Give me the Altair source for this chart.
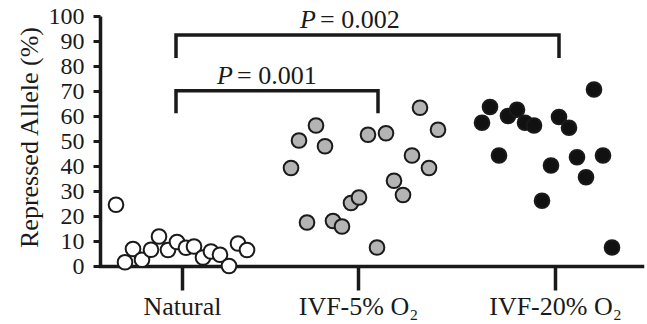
import altair as alt
import pandas as pd

# ---- data ----
groups = ["Natural", "IVF-5% O\u2082", "IVF-20% O\u2082"]
group_ticks = [182, 358, 555]          # category positions on the x axis

natural_x = [116, 125, 133, 142, 151, 159, 168, 177, 186, 194, 203, 211, 220, 229, 238, 247]
natural_y = [24.5, 1.5, 6.8, 2.5, 6.5, 11.8, 6.4, 9.6, 7.3, 7.8, 3.4, 5.8, 4.5, 0.0, 9.0, 6.4]

ivf5_x = [291, 299, 316, 325, 307, 333, 342, 351, 359, 368, 386, 377, 394, 403, 412, 420, 429, 438]
ivf5_y = [39.2, 50.2, 56.2, 47.9, 17.4, 18.0, 15.8, 25.2, 27.4, 52.5, 53.1, 7.4, 34.1, 28.4, 44.2, 63.3, 39.2, 54.5]

ivf20_x = [482, 490, 499, 508, 517, 525, 534, 542, 551, 559, 569, 577, 586, 594, 603, 612]
ivf20_y = [57.3, 63.6, 44.2, 60.0, 62.5, 57.3, 56.2, 26.1, 40.2, 59.6, 55.3, 43.5, 35.5, 70.6, 44.2, 7.4]

group_fills = ["#ffffff", "#b4b4b4", "#111111"]

# significance brackets: left x, right x, top value, leg end value, label value, label anchor x
bracket_names = ["b1", "b2"]
bracket_left = [176, 176]
bracket_right = [378, 559]
bracket_top = [70.1, 92.4]
bracket_leg = [61.1, 83.2]
bracket_text = ["= 0.001", "= 0.002"]
bracket_text_y = [73.0, 95.2]
bracket_text_x = [235, 318]

y_ticks = list(range(0, 101, 10))

# ---- tables ----
rows = []
for g, xs, ys in zip(groups, [natural_x, ivf5_x, ivf20_x], [natural_y, ivf5_y, ivf20_y]):
    for i, (xv, yv) in enumerate(zip(xs, ys)):
        rows.append({"group": g, "pos": xv, "value": yv, "idx": i})
pts = pd.DataFrame(rows)

brows = []
for n, l, r, t, b in zip(bracket_names, bracket_left, bracket_right, bracket_top, bracket_leg):
    brows += [
        {"bracket": n, "step": 0, "pos": l, "value": b},
        {"bracket": n, "step": 1, "pos": l, "value": t},
        {"bracket": n, "step": 2, "pos": r, "value": t},
        {"bracket": n, "step": 3, "pos": r, "value": b},
    ]
br = pd.DataFrame(brows)

txt = pd.DataFrame({"pos": bracket_text_x, "value": bracket_text_y, "label": bracket_text, "p": ["P", "P"]})

FONT = "Liberation Serif"
INK = "#1a1a1a"

label_expr = " : ".join(
    f"datum.value == {t} ? '{g}'" for t, g in zip(group_ticks, groups)
) + " : ''"

x_scale = alt.Scale(domain=[100, 642], nice=False, zero=False)
y_scale = alt.Scale(domain=[0, 100], nice=False)

x_axis = alt.Axis(
    values=group_ticks, labelExpr=label_expr, title=None, grid=False,
    labelFont=FONT, labelFontSize=26, labelColor=INK, labelPadding=3,
    labelAngle=0, labelFlush=False, labelOverlap=False, labelBound=False,
    tickSize=24, tickWidth=3.5, tickColor=INK,
    domainWidth=3.5, domainColor=INK, domainCap="square",
)
y_axis = alt.Axis(
    values=y_ticks, title="Repressed Allele (%)", grid=False,
    labelFont=FONT, labelFontSize=24, labelColor=INK, labelPadding=9,
    labelFlush=False, labelOverlap=False,
    tickSize=7, tickWidth=3, tickColor=INK,
    domainWidth=3.5, domainColor=INK,
    titleFont=FONT, titleFontSize=26, titleFontWeight="normal", titleColor=INK,
    titleX=-63, titleY=121, titleBaseline="alphabetic", titleAlign="center", titleAngle=270,
)

X = alt.X("pos:Q", scale=x_scale, axis=x_axis)
Y = alt.Y("value:Q", scale=y_scale, axis=y_axis)

points = alt.Chart(pts).mark_point(
    shape="circle", filled=True, size=215, stroke=INK, strokeWidth=2, opacity=1
).encode(
    x=X, y=Y,
    fill=alt.Fill("group:N", scale=alt.Scale(domain=groups, range=group_fills), legend=None),
)

brackets = alt.Chart(br).mark_line(color=INK, strokeWidth=3.5, strokeJoin="miter").encode(
    x=X, y=Y,
    detail="bracket:N",
    order="step:Q",
)

p_text = alt.Chart(txt).mark_text(
    font=FONT, fontSize=26, fontStyle="italic", align="right", baseline="alphabetic", color=INK, dx=-2
).encode(x=X, y=Y, text="p:N")

v_text = alt.Chart(txt).mark_text(
    font=FONT, fontSize=26, align="left", baseline="alphabetic", color=INK, dx=2
).encode(x=X, y=Y, text="label:N")

chart = alt.layer(brackets, points, p_text, v_text).properties(
    width=542, height=250,
    padding={"left": 100, "top": 16, "right": 5, "bottom": 58},
    autosize=alt.AutoSizeParams(type="none"),
    background="white",
).configure_view(stroke=None)

chart.save("out.html", embed_options={"renderer": "svg", "actions": False})
